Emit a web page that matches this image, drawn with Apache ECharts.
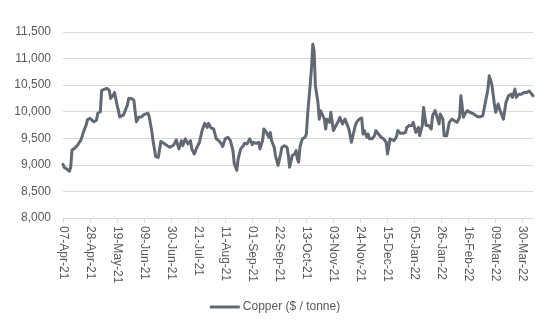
<!DOCTYPE html>
<html>
<head>
<meta charset="utf-8">
<script src="https://cdn.jsdelivr.net/npm/echarts@6/dist/echarts.min.js"></script>
<style>
  html, body { margin: 0; padding: 0; background: #ffffff; }
  #chart { width: 550px; height: 330px; }
</style>
</head>
<body>
<div id="chart"></div>
<script>
// Daily copper price, 07-Apr-21 to 07-Apr-22 (calendar-day axis)
const startDate = '2021-04-07';
const calendarDays = 366;

// Observation dates as day offsets from startDate, and the price on each
const obsDay = [
  0, 1, 3, 5, 6, 7, 9, 11, 12, 14, 16, 18, 19, 21, 22, 24, 26, 27, 29, 30,
  32, 34, 36, 37, 39, 40, 42, 43, 44, 45, 47, 48, 50, 51, 53, 55, 57, 59, 61, 63,
  66, 67, 69, 70, 72, 74, 76, 78, 81, 83, 86, 88, 90, 92, 93, 95, 97, 99, 100, 102,
  104, 106, 108, 110, 112, 113, 115, 117, 119, 121, 123, 124, 126, 128, 130, 131, 132, 133, 135, 136,
  138, 140, 141, 143, 145, 147, 148, 150, 152, 153, 155, 156, 158, 160, 161, 162, 164, 165, 167, 169,
  170, 172, 174, 175, 176, 178, 180, 181, 182, 183, 184, 185, 186, 188, 189, 190, 192, 193, 194, 195,
  196, 197, 198, 199, 200, 201, 203, 204, 205, 207, 208, 210, 212, 214, 215, 217, 219, 220, 222, 224,
  225, 227, 228, 230, 232, 233, 234, 236, 237, 238, 240, 242, 243, 245, 247, 249, 251, 252, 254, 255,
  257, 259, 260, 262, 264, 266, 267, 269, 271, 272, 273, 274, 276, 277, 279, 280, 282, 284, 286, 287,
  289, 291, 292, 293, 295, 296, 298, 300, 302, 304, 306, 308, 309, 311, 312, 314, 316, 318, 320, 322,
  324, 326, 328, 330, 331, 333, 334, 335, 336, 338, 339, 341, 342, 344, 346, 348, 349, 351, 352, 354,
  356, 358, 360, 362, 363, 364, 365
];
const copperPrice = [
  9010, 8950, 8920, 8880, 8960, 9280, 9310, 9360, 9375, 9470, 9625, 9750, 9850, 9875, 9840, 9810, 9840, 9970, 10000, 10400,
  10420, 10440, 10400, 10250, 10310, 10360, 10125, 10030, 9900, 9910, 9940, 9940, 10125, 10250, 10250, 10220, 9810, 9900, 9900, 9950,
  9970, 9900, 9625, 9440, 9155, 9140, 9440, 9410, 9360, 9330, 9375, 9470, 9300, 9455, 9360, 9490, 9395, 9455, 9300, 9205,
  9330, 9425, 9645, 9780, 9705, 9780, 9695, 9675, 9490, 9455, 9395, 9345, 9490, 9520, 9455, 9360, 9270, 9020, 8895, 9110,
  9300, 9360, 9405, 9395, 9490, 9380, 9425, 9405, 9425, 9300, 9455, 9675, 9610, 9520, 9610, 9455, 9330, 9175, 8990, 9205,
  9330, 9360, 9330, 9175, 8955, 9175, 9205, 9270, 9110, 9050, 9330, 9425, 9490, 9520, 9580, 9955, 10520, 10830, 11270, 11145,
  10490, 10455, 10175, 9860, 10020, 10050, 9860, 9675, 9860, 9800, 9990, 9645, 9740, 9830, 9895, 9770, 9860, 9800, 9675, 9425,
  9455, 9740, 9800, 9860, 9880, 9580, 9645, 9520, 9580, 9490, 9490, 9550, 9645, 9580, 9520, 9490, 9425, 9205, 9490, 9455,
  9455, 9530, 9645, 9595, 9595, 9610, 9705, 9740, 9740, 9800, 9770, 9610, 9705, 9550, 9740, 10080, 9740, 9740, 9675, 9925,
  10020, 9860, 9770, 9955, 9860, 9550, 9550, 9800, 9860, 9830, 9800, 9895, 10300, 9895, 9955, 10020, 9990, 9970, 9940, 9905,
  9905, 9925, 10175, 10425, 10675, 10520, 10330, 10145, 9990, 10145, 10050, 9925, 9860, 10175, 10300, 10330, 10270, 10425, 10270, 10330,
  10330, 10360, 10360, 10390, 10425, 10330, 10300
];

const monthNames = ['Jan','Feb','Mar','Apr','May','Jun','Jul','Aug','Sep','Oct','Nov','Dec'];

function dayLabel(offset) {
  const d = new Date(startDate + 'T00:00:00Z');
  d.setUTCDate(d.getUTCDate() + offset);
  const dd = String(d.getUTCDate()).padStart(2, '0');
  const yy = String(d.getUTCFullYear()).slice(2);
  return dd + '-' + monthNames[d.getUTCMonth()] + '-' + yy;
}

const dayLabels = [];
for (let i = 0; i < calendarDays; i++) dayLabels.push(dayLabel(i));

const seriesData = obsDay.map((d, i) => [d, copperPrice[i]]);

const textColor = '#595959';
const gridColor = '#d9d9d9';
const lineColor = '#626972';

const chart = echarts.init(document.getElementById('chart'), null, { renderer: 'canvas' });
chart.setOption({
  animation: false,
  backgroundColor: '#ffffff',
  grid: { left: 63, right: 17, top: 32, bottom: 112 },
  xAxis: {
    type: 'category',
    data: dayLabels,
    boundaryGap: false,
    axisLine: { lineStyle: { color: gridColor, width: 1 } },
    axisTick: { show: true, interval: 20, length: 5, lineStyle: { color: gridColor } },
    axisLabel: {
      interval: 20,
      rotate: -90,
      margin: 8,
      color: textColor,
      fontFamily: 'Liberation Sans, Arial, sans-serif',
      fontSize: 12
    },
    splitLine: { show: false }
  },
  yAxis: {
    type: 'value',
    min: 8000,
    max: 11500,
    interval: 500,
    axisLine: { show: false },
    axisTick: { show: false },
    axisLabel: {
      margin: 12,
      color: textColor,
      fontFamily: 'Liberation Sans, Arial, sans-serif',
      fontSize: 12,
      formatter: v => v.toLocaleString('en-US')
    },
    splitLine: { lineStyle: { color: gridColor, width: 1 } }
  },
  legend: {
    top: 296,
    left: 'center',
    icon: 'rect',
    itemWidth: 30,
    itemHeight: 3,
    itemGap: 10,
    textStyle: {
      color: textColor,
      fontFamily: 'Liberation Sans, Arial, sans-serif',
      fontSize: 12,
      padding: [0, 0, 0, -2]
    },
    data: ['Copper ($ / tonne)']
  },
  series: [{
    name: 'Copper ($ / tonne)',
    type: 'line',
    data: seriesData,
    showSymbol: false,
    symbol: 'none',
    smooth: false,
    lineStyle: { color: lineColor, width: 3, join: 'round', cap: 'round' },
    itemStyle: { color: lineColor }
  }]
});
</script>
</body>
</html>
